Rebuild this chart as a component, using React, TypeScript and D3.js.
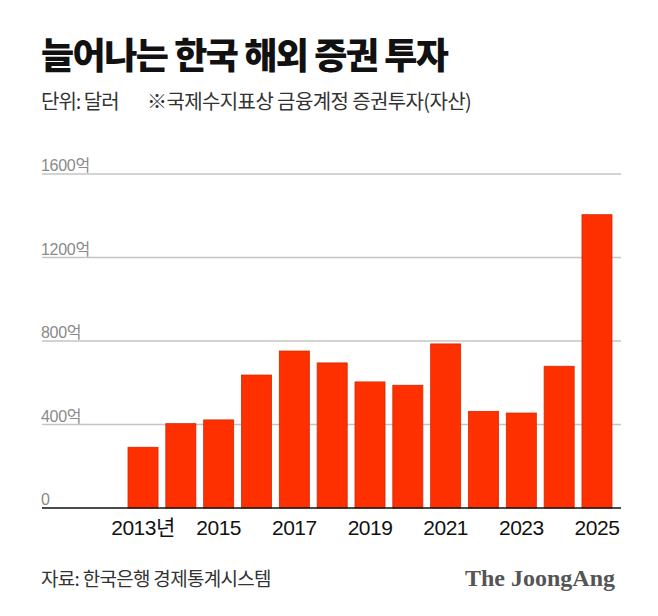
import React, { useRef, useEffect } from "react";
import * as d3 from "d3";

const years = ["2013", "2014", "2015", "2016", "2017", "2018", "2019", "2020", "2021", "2022", "2023", "2024", "2025"];
const values = [291, 404, 422, 637, 752, 695, 604, 588, 786, 463, 455, 679, 1405];
const yTicks = [0, 400, 800, 1200, 1600];
const labelYears = ["2013", "2015", "2017", "2019", "2021", "2023", "2025"];

const title = "늘어나는 한국 해외 증권 투자";
const subtitle = "단위: 달러";
const note = "※국제수지표상 금융계정 증권투자(자산)";
const source = "자료: 한국은행 경제통계시스템";

const App = () => {
  const ref = useRef(null);

  useEffect(() => {
    const svg = d3.select(ref.current);
    svg.selectAll("*").remove();

    const sans = "'Noto Sans CJK KR', 'Noto Sans', sans-serif";
    const num = "'Liberation Sans', Arial, 'Noto Sans CJK KR', sans-serif";

    const x = d3.scaleBand().domain(years).range([128, 612]).paddingInner(0.206).paddingOuter(0);
    const y = d3.scaleLinear().domain([0, 1600]).range([508, 174]);

    // title
    svg.append("text")
      .attr("x", 41).attr("y", 69)
      .attr("font-family", sans).attr("font-weight", 900)
      .attr("font-size", 36).attr("letter-spacing", -1.5)
      .attr("fill", "#111").text(title);

    svg.append("text")
      .attr("x", 41).attr("y", 109)
      .attr("font-family", sans).attr("font-size", 20).attr("letter-spacing", -1)
      .attr("fill", "#333").text(subtitle);
    svg.append("text")
      .attr("x", 147).attr("y", 109)
      .attr("font-family", sans).attr("font-size", 20).attr("letter-spacing", -0.6)
      .attr("fill", "#333").text(note);

    // grid
    const grid = svg.append("g");
    grid.selectAll("line").data(yTicks.filter((d) => d > 0)).enter().append("line")
      .attr("x1", 42).attr("x2", 621)
      .attr("y1", (d) => y(d)).attr("y2", (d) => y(d))
      .attr("stroke", "#c4c4c4").attr("stroke-width", 1.5);
    grid.selectAll("text").data(yTicks).enter().append("text")
      .attr("x", 41).attr("y", (d) => y(d) - 3)
      .attr("font-family", num).attr("font-size", 16).attr("letter-spacing", -0.3)
      .attr("fill", "#8a8a8a")
      .text((d) => (d === 0 ? "0" : d + "억"));

    // bars
    svg.append("g").selectAll("rect").data(values).enter().append("rect")
      .attr("x", (d, i) => x(years[i]))
      .attr("y", (d) => y(d))
      .attr("width", x.bandwidth())
      .attr("height", (d) => y(0) - y(d))
      .attr("fill", "#ff3000")
      .attr("stroke", "#d92600").attr("stroke-width", 0.8);

    // baseline
    svg.append("line")
      .attr("x1", 42).attr("x2", 621).attr("y1", y(0)).attr("y2", y(0))
      .attr("stroke", "#111").attr("stroke-width", 1.5);

    // x labels
    svg.append("g").selectAll("text").data(labelYears).enter().append("text")
      .attr("x", (d) => x(d) + x.bandwidth() / 2)
      .attr("y", 535)
      .attr("text-anchor", "middle")
      .attr("font-family", num).attr("font-size", 21).attr("letter-spacing", -0.5)
      .attr("fill", "#111")
      .text((d, i) => (i === 0 ? d + "년" : d));

    // footer
    svg.append("text")
      .attr("x", 41).attr("y", 586)
      .attr("font-family", sans).attr("font-size", 19).attr("letter-spacing", -0.7)
      .attr("fill", "#333").text(source);

    svg.append("text")
      .attr("x", 615).attr("y", 586)
      .attr("text-anchor", "end")
      .attr("font-family", "'Liberation Serif', 'DejaVu Serif', serif")
      .attr("font-weight", "bold").attr("font-size", 24)
      .attr("fill", "#555").text("The JoongAng");
  }, []);

  return <svg ref={ref} width={658} height={616} style={{ position: "absolute", left: 0, top: 0, background: "#fff" }} />;
};

export default App;
